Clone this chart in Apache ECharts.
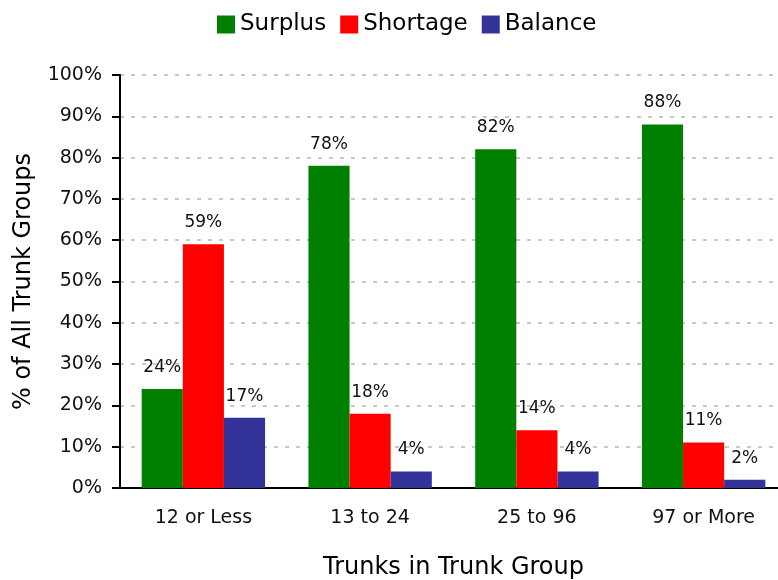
<!DOCTYPE html>
<html>
<head>
<meta charset="utf-8">
<script src="https://cdn.jsdelivr.net/npm/echarts@6/dist/echarts.min.js"></script>
<style>
  html, body { margin: 0; padding: 0; background: #fff; }
  #chart { width: 778px; height: 580px; }
</style>
</head>
<body>
<div id="chart"></div>
<script>
const categories = ['12 or Less', '13 to 24', '25 to 96', '97 or More'];
const surplus = [24, 78, 82, 88];
const shortage = [59, 18, 14, 11];
const balance = [17, 4, 4, 2];

const chart = echarts.init(document.getElementById('chart'));
const font = 'DejaVu Sans';

const barLabel = {
  show: true,
  position: 'top',
  distance: 13,
  formatter: '{c}%',
  fontFamily: font,
  fontSize: 17,
  color: '#111'
};

function bar(name, data, color) {
  return {
    name: name,
    type: 'bar',
    data: data,
    barGap: '0%',
    barCategoryGap: '26%',
    itemStyle: { color: color },
    label: barLabel
  };
}

chart.setOption({
  animation: false,
  textStyle: { fontFamily: font },
  legend: {
    top: 8,
    left: 212,
    itemWidth: 18,
    itemHeight: 18,
    itemGap: 14,
    icon: 'rect',
    textStyle: { fontFamily: font, fontSize: 23, color: '#000' },
    data: ['Surplus', 'Shortage', 'Balance']
  },
  grid: { left: 120, right: -9, top: 75, bottom: 92, outerBoundsMode: 'none', containLabel: false },
  xAxis: {
    type: 'category',
    data: categories,
    name: 'Trunks in Trunk Group',
    nameLocation: 'middle',
    nameGap: 68,
    nameTextStyle: { fontFamily: font, fontSize: 24, color: '#000' },
    axisLine: { lineStyle: { color: '#000', width: 2 } },
    axisTick: { length: 7, lineStyle: { color: '#000', width: 2 } },
    axisLabel: { fontFamily: font, fontSize: 19, color: '#111', margin: 21 }
  },
  yAxis: {
    type: 'value',
    min: 0,
    max: 100,
    interval: 10,
    name: '% of All Trunk Groups',
    nameLocation: 'middle',
    nameGap: 84,
    nameTextStyle: { fontFamily: font, fontSize: 24, color: '#000' },
    axisLine: { show: true, lineStyle: { color: '#000', width: 2 } },
    axisTick: { show: true, length: 8, lineStyle: { color: '#000', width: 2 } },
    axisLabel: { fontFamily: font, fontSize: 19, color: '#111', margin: 18, formatter: '{value}%' },
    splitLine: { lineStyle: { color: '#c8c8c8', width: 2, type: [4, 7] } }
  },
  series: [
    bar('Surplus', surplus, '#008000'),
    bar('Shortage', shortage, '#ff0000'),
    bar('Balance', balance, '#333399')
  ]
});
</script>
</body>
</html>
